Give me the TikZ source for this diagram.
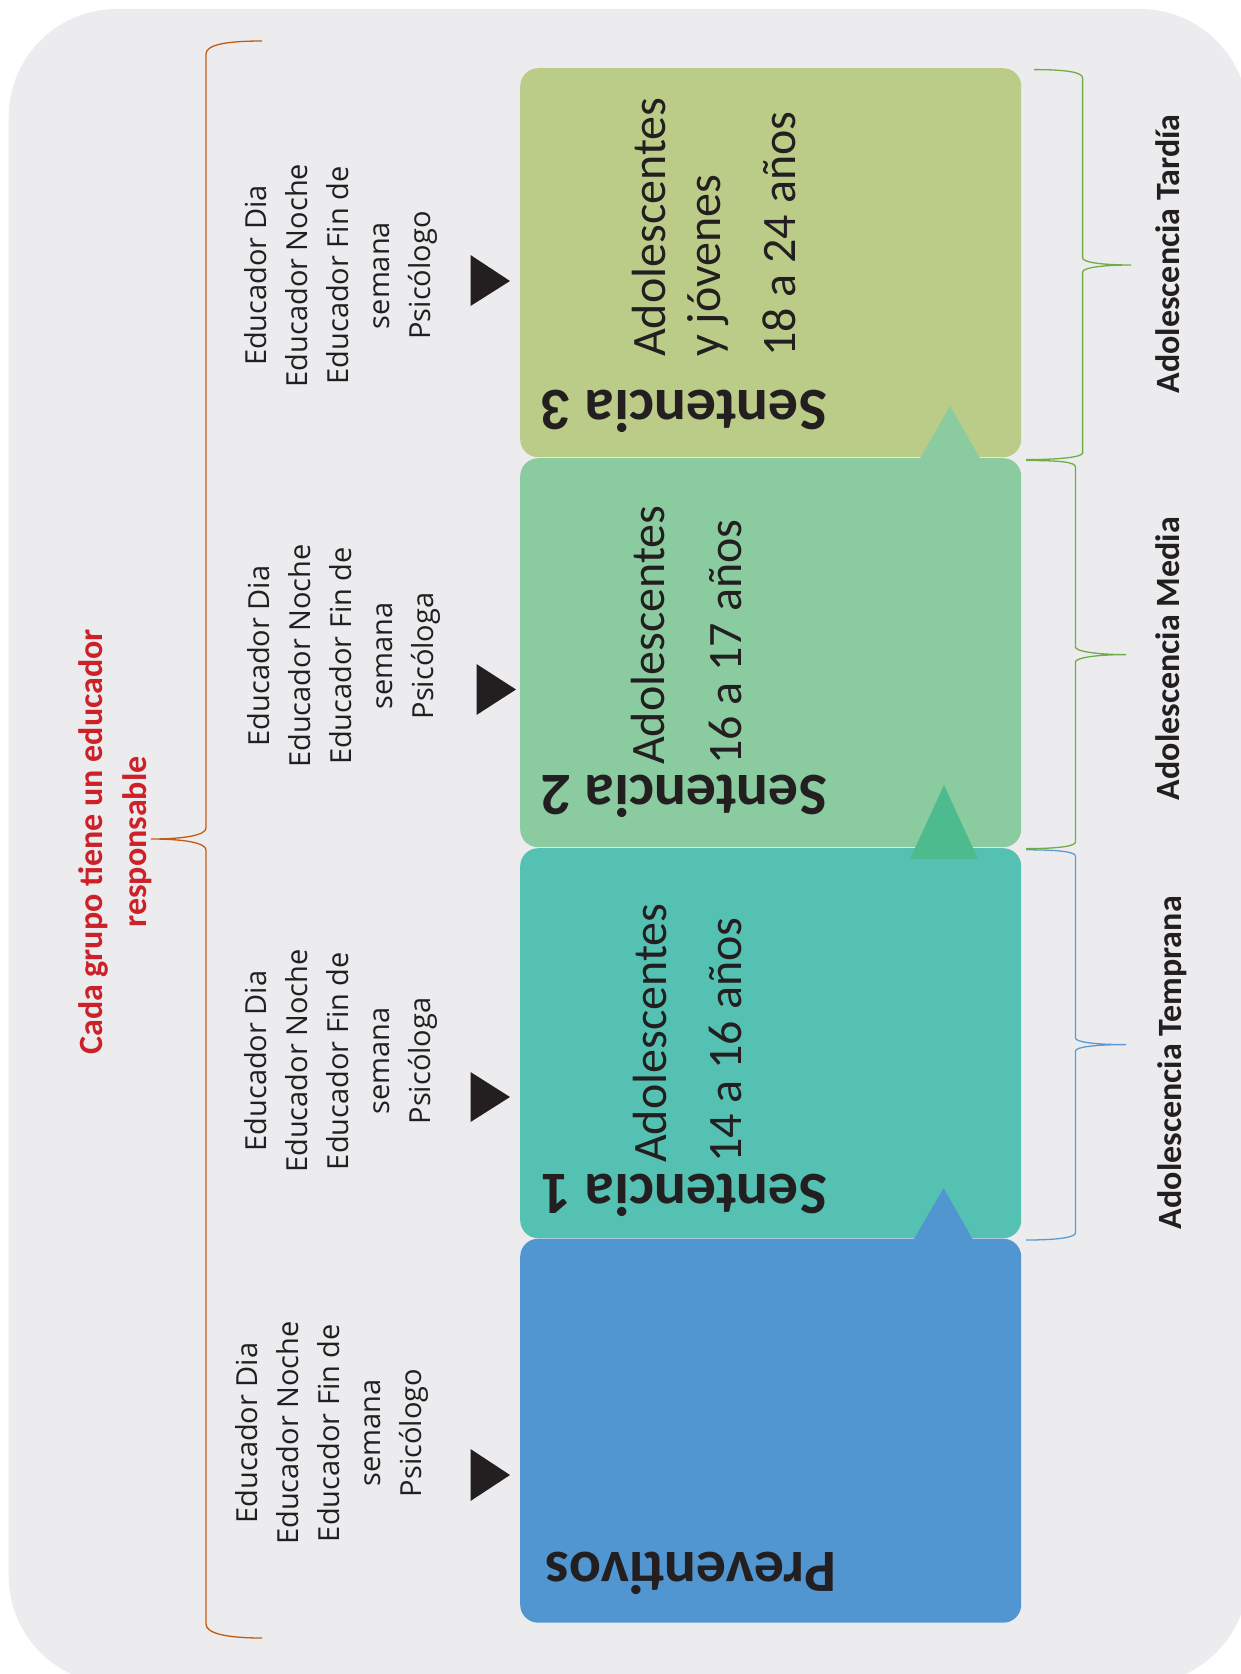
\documentclass[tikz,border=0pt]{standalone}
\usepackage{fontspec}
\newfontfamily\calib{Carlito}
\newfontfamily\osans{Open Sans}
\definecolor{bgc}{RGB}{236,236,238}
\definecolor{cthree}{RGB}{187,204,137}
\definecolor{ctwo}{RGB}{138,203,159}
\definecolor{cone}{RGB}{85,193,178}
\definecolor{cprev}{RGB}{81,150,208}
\definecolor{cdark}{RGB}{78,187,143}
\definecolor{blk}{RGB}{35,31,32}
\definecolor{obr}{RGB}{197,90,17}
\definecolor{gbr}{RGB}{112,173,71}
\definecolor{bbr}{RGB}{91,155,213}
\definecolor{redc}{RGB}{204,33,41}
\begin{document}
\begin{tikzpicture}[x=1pt,y=-1pt,
  box/.style={rounded corners=18pt, minimum width=501pt, anchor=north west, inner sep=0pt, draw=none},
  title/.style={font=\calib\bfseries\fontsize{60}{72}\selectfont, text=blk, inner sep=0pt, rotate=180},
  age/.style={font=\calib\fontsize{48}{55}\selectfont, text=blk, align=left, inner sep=0pt, rotate=90, anchor=base west},
  staff/.style={font=\osans\fontsize{29}{41}\selectfont, text=blk, align=center, inner sep=0pt, rotate=90, anchor=base},
  stage/.style={font=\calib\bfseries\fontsize{34}{40}\selectfont, text=blk, inner sep=0pt, rotate=90, anchor=base},
  brace/.style={line width=1.3pt}]
\useasboundingbox (0,0) rectangle (1241,1674);
\clip (0,0) rectangle (1241,1674);
\fill[white] (0,0) rectangle (1241,1674);
\fill[bgc, rounded corners=108pt] (8.7,9) rectangle (1248,1684);
% boxes
\node[box, fill=cthree, minimum height=389pt] (s3) at (520,68) {};
\node[box, fill=ctwo, minimum height=389pt] (s2) at (520,458) {};
\node[box, fill=cone, minimum height=390pt] (s1) at (520,848) {};
\node[box, fill=cprev, minimum height=384pt] (sp) at (520,1238.5) {};
% coloured triangles
\fill[ctwo] (920,458.5) -- (950,406) -- (980,458.5) -- cycle;
\fill[cdark] (910,859) -- (944,785) -- (978,859) -- cycle;
\fill[cprev] (914,1239) -- (943.6,1188) -- (972.5,1239) -- cycle;
% black triangles
\fill[blk] (470.5,255) -- (510,281) -- (470.5,306) -- cycle;
\fill[blk] (476.5,664) -- (516,689.5) -- (476.5,715) -- cycle;
\fill[blk] (470.5,1072) -- (510,1097) -- (470.5,1122) -- cycle;
\fill[blk] (470.5,1449) -- (510,1475) -- (470.5,1501) -- cycle;
% titles
\node[title] (t3) at (684,411) {Sentencia 3};
\node[title] (t2) at (684,796) {Sentencia 2};
\node[title] (t1) at (684,1195) {Sentencia 1};
\node[title] (tp) at (691,1573) {Preventivos};
% ages (anchor on the baseline of the last line)
\node[age] (a3) at (795,357) {Adolescentes\\y jóvenes\\[20pt]18 a 24 años};
\node[age] (a2) at (741,765) {Adolescentes\\[22pt]16 a 17 años};
\node[age] (a1) at (741,1163) {Adolescentes\\[20pt]14 a 16 años};
% staff (anchor on the baseline of the last line)
\node[staff] (e3) at (430,275.5) {Educador Dia\\Educador Noche\\Educador Fin de\\semana\\Psicólogo};
\node[staff] (e2) at (433,656) {Educador Dia\\Educador Noche\\Educador Fin de\\semana\\Psicóloga};
\node[staff] (e1) at (430,1061) {Educador Dia\\Educador Noche\\Educador Fin de\\semana\\Psicóloga};
\node[staff] (ep) at (421,1433) {Educador Dia\\Educador Noche\\Educador Fin de\\semana\\Psicólogo};
% red label
\node[font=\calib\bfseries\fontsize{34}{44}\selectfont, text=redc, align=center, inner sep=0pt, rotate=90, anchor=base] (cada) at (146,842) {Cada grupo tiene un educador\\responsable};
% stage labels
\node[stage] (lt) at (1179,254) {Adolescencia Tardía};
\node[stage] (lm) at (1179,658.6) {Adolescencia Media};
\node[stage] (le) at (1181,1062.6) {Adolescencia Temprana};
% braces
\draw[brace, obr] (262,41) .. controls (225,41) and (206,45) .. (206,54) -- (206,828) .. controls (206,835) and (185,839) .. (151,839) .. controls (185,839) and (206,843) .. (206,850) -- (206,1624) .. controls (206,1633) and (225,1638) .. (262,1638);
\draw[brace, gbr] (1034,69.6) .. controls (1065,69.6) and (1082.6,72) .. (1082.6,78) -- (1082.6,258) .. controls (1082.6,262) and (1100,265) .. (1131,265) .. controls (1100,265) and (1082.6,268) .. (1082.6,272) -- (1082.6,453) .. controls (1082.6,457) and (1060,459.6) .. (1026,459.6);
\draw[brace, gbr] (1026,460.5) .. controls (1060,460.5) and (1075.4,462) .. (1075.4,467) -- (1075.4,647) .. controls (1075.4,651) and (1095,654.6) .. (1126,654.6) .. controls (1095,654.6) and (1075.4,658) .. (1075.4,662) -- (1075.4,842) .. controls (1075.4,846) and (1060,848.6) .. (1026,848.6);
\draw[brace, bbr] (1026,849.8) .. controls (1060,849.8) and (1075.4,852) .. (1075.4,856) -- (1075.4,1038) .. controls (1075.4,1042) and (1095,1044.6) .. (1126,1044.6) .. controls (1095,1044.6) and (1075.4,1047) .. (1075.4,1051) -- (1075.4,1233) .. controls (1075.4,1237) and (1060,1240) .. (1026,1240);
\end{tikzpicture}
\end{document}
